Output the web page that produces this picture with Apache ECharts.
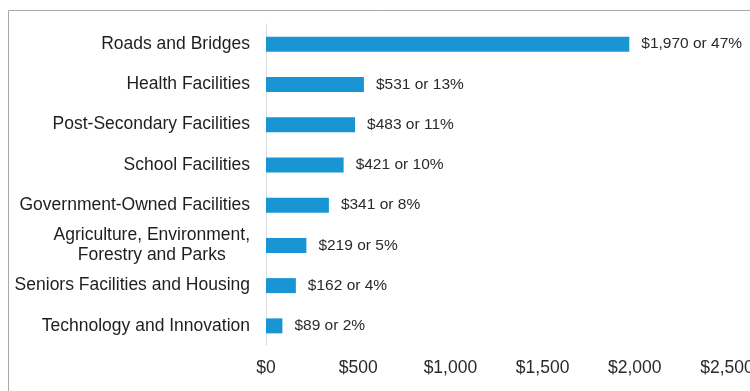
<!DOCTYPE html>
<html>
<head>
<meta charset="utf-8">
<script src="https://cdn.jsdelivr.net/npm/echarts@6/dist/echarts.min.js"></script>
<style>
  html, body { margin: 0; padding: 0; background: #fff; }
  #chart { width: 750px; height: 391px; }
</style>
</head>
<body>
<div id="chart"></div>
<script>
// Capital plan spending by category ($ millions) and share of total
const categories = [
  'Roads and Bridges',
  'Health Facilities',
  'Post-Secondary Facilities',
  'School Facilities',
  'Government-Owned Facilities',
  'Agriculture, Environment,\nForestry and Parks',
  'Seniors Facilities and Housing',
  'Technology and Innovation'
];
const amounts = [1970, 531, 483, 421, 341, 219, 162, 89];
const shares = [47, 13, 11, 10, 8, 5, 4, 2];
const axisTicks = [0, 500, 1000, 1500, 2000, 2500];

const money = v => '$' + v.toLocaleString('en-US');

const chart = echarts.init(document.getElementById('chart'), null, { renderer: 'canvas' });

chart.setOption({
  animation: false,
  backgroundColor: '#ffffff',
  textStyle: { fontFamily: '"Liberation Sans", Arial, sans-serif' },
  graphic: [{
    type: 'rect',
    shape: { x: 8.5, y: 10.5, width: 800, height: 420 },
    style: { fill: 'none', stroke: '#a8a8a8', lineWidth: 1 },
    silent: true
  }],
  grid: {
    left: 266, right: 23, top: 24, bottom: 45,
    containLabel: false,
    outerBoundsMode: 'none'
  },
  xAxis: {
    type: 'value',
    min: axisTicks[0],
    max: axisTicks[axisTicks.length - 1],
    interval: axisTicks[1] - axisTicks[0],
    axisLine: { show: false },
    axisTick: { show: false },
    splitLine: { show: false },
    axisLabel: {
      margin: 13,
      fontSize: 17.5,
      color: '#2a2a2a',
      formatter: v => money(v)
    }
  },
  yAxis: {
    type: 'category',
    inverse: true,
    data: categories,
    axisLine: { show: true, lineStyle: { color: '#d6d6d6', type: 'dotted', width: 1 } },
    axisTick: { show: false },
    axisLabel: {
      margin: 16,
      fontSize: 17.5,
      color: '#1e1e1e',
      lineHeight: 20,
      formatter: v => v.indexOf('\n') >= 0
        ? v.split('\n').map(s => '{c|' + s + '}').join('\n')
        : v,
      rich: { c: { align: 'center', fontSize: 17.5, color: '#1e1e1e', lineHeight: 20 } }
    }
  },
  series: [{
    type: 'bar',
    data: amounts,
    barWidth: 15,
    itemStyle: { color: '#1a95d4' },
    label: {
      show: true,
      position: 'right',
      distance: 12,
      fontSize: 15.5,
      color: '#2a2a2a',
      formatter: p => money(p.value) + ' or ' + shares[p.dataIndex] + '%'
    }
  }]
});
</script>
</body>
</html>
